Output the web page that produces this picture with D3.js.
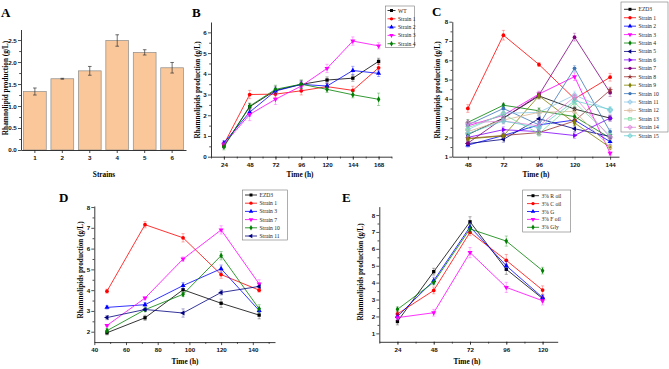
<!DOCTYPE html>
<html>
<head>
<meta charset="utf-8">
<script src="https://cdn.jsdelivr.net/npm/d3@7"></script>
<style>
  body { margin: 0; background: #fff; }
  svg { display: block; font-family: "Liberation Serif", "Times New Roman", serif; }
  .tick text { font-weight: bold; font-size: 6.2px; }
  .ttl { font-weight: bold; font-size: 7.3px; }
  .letter { font-weight: bold; font-size: 13px; }
  .leg { font-size: 5.6px; }
</style>
</head>
<body>
<svg id="fig" width="669" height="369"></svg>
<script>
// ---- panel A: bar chart
const strains = ["1", "2", "3", "4", "5", "6"];
const strainMeans = [1.33, 1.62, 1.80, 2.49, 2.22, 1.87];
const strainErrs = [0.08, 0.01, 0.10, 0.13, 0.06, 0.12];

// ---- panel B
const timeB = [24, 48, 72, 96, 120, 144, 168];
const namesB = ["WT", "Strain 1", "Strain 2", "Strain 3", "Strain 4"];
const wtB = [0.51, 2.41, 3.20, 3.49, 3.70, 3.79, 4.60];
const s1B = [0.60, 3.00, 3.02, 3.18, 3.38, 3.20, 4.29];
const s2B = [0.67, 2.15, 3.17, 3.49, 3.41, 4.16, 4.02];
const s3B = [0.60, 2.04, 2.77, 3.41, 4.26, 5.58, 5.35];
const s4B = [0.48, 2.44, 3.25, 3.50, 3.25, 2.99, 2.77];
const errB = [
  [0.10, 0.15, 0.20, 0.20, 0.15, 0.15, 0.15],
  [0.10, 0.20, 0.15, 0.20, 0.15, 0.20, 0.20],
  [0.10, 0.20, 0.15, 0.15, 0.15, 0.20, 0.15],
  [0.10, 0.30, 0.25, 0.20, 0.20, 0.20, 0.15],
  [0.15, 0.15, 0.20, 0.20, 0.15, 0.15, 0.30]
];

// ---- panel C
const timeC = [48, 72, 96, 120, 144];
const namesC = ["EZD3", "Strain 1", "Strain 2", "Strain 3", "Strain 4", "Strain 5", "Strain 6", "Strain 7",
  "Strain 8", "Strain 9", "Strain 10", "Strain 11", "Strain 12", "Strain 13", "Strain 14", "Strain 15"];
const valuesC = [
  [2.15, 3.00, 4.15, 3.47, 3.00],
  [3.50, 7.30, 5.78, 4.00, 5.12],
  [1.60, 2.10, 2.65, 2.90, 1.78],
  [2.60, 3.15, 4.25, 5.15, 1.18],
  [2.78, 3.67, 3.38, 3.08, 1.97],
  [1.68, 1.90, 2.97, 2.45, 2.05],
  [2.00, 2.40, 2.30, 2.10, 3.00],
  [1.70, 3.00, 4.20, 7.20, 4.32],
  [1.95, 2.10, 2.25, 2.85, 4.45],
  [1.92, 2.08, 4.15, 2.75, 1.48],
  [2.65, 3.50, 2.65, 5.58, 2.30],
  [2.40, 3.25, 3.30, 4.20, 3.40],
  [2.30, 2.90, 3.30, 3.35, 1.50],
  [2.50, 3.20, 2.20, 3.80, 2.10],
  [2.75, 2.85, 2.60, 4.10, 2.00],
  [2.20, 2.85, 2.50, 3.90, 3.45]
];
const errC = [
  [0.15, 0.15, 0.15, 0.15, 0.15], [0.20, 0.25, 0.10, 0.20, 0.20], [0.10, 0.10, 0.15, 0.15, 0.15],
  [0.15, 0.15, 0.15, 0.20, 0.10], [0.15, 0.10, 0.15, 0.15, 0.10], [0.10, 0.15, 0.15, 0.15, 0.10],
  [0.10, 0.15, 0.15, 0.15, 0.15], [0.10, 0.15, 0.15, 0.20, 0.20], [0.10, 0.10, 0.15, 0.15, 0.15],
  [0.10, 0.10, 0.15, 0.15, 0.10], [0.15, 0.15, 0.15, 0.15, 0.15], [0.15, 0.15, 0.15, 0.20, 0.15],
  [0.10, 0.15, 0.15, 0.15, 0.10], [0.15, 0.15, 0.15, 0.20, 0.10], [0.15, 0.15, 0.15, 0.15, 0.10],
  [0.15, 0.15, 0.15, 0.15, 0.15]
];

// ---- panel D
const timeD = [48, 72, 96, 120, 144];
const namesD = ["EZD3", "Strain 1", "Strain 3", "Strain 7", "Strain 10", "Strain 11"];
const valuesD = [
  [1.95, 2.67, 4.02, 3.37, 2.80],
  [3.95, 7.15, 6.52, 4.75, 4.00],
  [3.17, 3.30, 4.22, 5.03, 3.02],
  [2.30, 3.62, 5.50, 6.90, 4.30],
  [2.05, 3.06, 3.80, 5.66, 3.10],
  [2.68, 3.07, 2.90, 3.89, 4.18]
];
const errD = [
  [0.10, 0.12, 0.15, 0.20, 0.18], [0.10, 0.15, 0.20, 0.18, 0.10], [0.08, 0.10, 0.15, 0.18, 0.10],
  [0.05, 0.05, 0.10, 0.20, 0.20], [0.10, 0.05, 0.10, 0.20, 0.20], [0.10, 0.05, 0.20, 0.12, 0.05]
];

// ---- panel E
const timeE = [24, 48, 72, 96, 120];
const namesE = ["3% R oil", "3% C oil", "3% G", "3% F oil", "3% Gly"];
const valuesE = [
  [1.70, 4.65, 7.60, 4.79, 3.06],
  [2.15, 3.54, 6.98, 5.32, 3.56],
  [2.00, 4.12, 7.30, 5.00, 3.12],
  [1.93, 2.22, 5.78, 3.72, 2.93],
  [2.42, 4.02, 7.18, 6.46, 4.71]
];
const errE = [
  [0.20, 0.20, 0.30, 0.30, 0.20], [0.15, 0.20, 0.20, 0.35, 0.25], [0.15, 0.20, 0.25, 0.25, 0.15],
  [0.15, 0.20, 0.30, 0.30, 0.25], [0.15, 0.15, 0.25, 0.30, 0.20]
];

const svg = d3.select("#fig");

// marker shapes as Origin draws them
const sym = {
  square: { t: d3.symbolSquare, r: 0 },
  circle: { t: d3.symbolCircle, r: 0 },
  up: { t: d3.symbolTriangle, r: 0 },
  down: { t: d3.symbolTriangle, r: 180 },
  left: { t: d3.symbolTriangle, r: -90 },
  right: { t: d3.symbolTriangle, r: 90 },
  diamond: { t: d3.symbolDiamond, r: 0 },
  star: { t: d3.symbolStar, r: 0 },
  cross: { t: d3.symbolCross, r: 0 },
  x: { t: d3.symbolCross, r: 45 }
};

function axes(g, x, y, o) {
  const xa = g.append("g").attr("transform", `translate(0,${y.range()[0]})`);
  xa.call(d3.axisBottom(x).tickValues(o.xMinor).tickSize(1.8).tickSizeOuter(0).tickFormat(""));
  xa.append("g").call(d3.axisBottom(x).tickValues(o.xTicks).tickSize(3).tickSizeOuter(0).tickPadding(2.5)
    .tickFormat(o.xFmt || d3.format("d"))).select(".domain").remove();
  const ya = g.append("g").attr("transform", `translate(${x.range()[0]},0)`);
  ya.call(d3.axisLeft(y).tickValues(o.yMinor).tickSize(1.8).tickSizeOuter(0).tickFormat(""));
  ya.append("g").call(d3.axisLeft(y).tickValues(o.yTicks).tickSize(3).tickSizeOuter(0).tickPadding(1.2)
    .tickFormat(o.yFmt || d3.format("d"))).select(".domain").remove();
  g.selectAll(".domain").attr("stroke", "#222").attr("stroke-width", 0.9);
  g.selectAll(".tick line").attr("stroke", "#222").attr("stroke-width", 0.8);
  g.selectAll(".tick text").attr("fill", "#111");
}

function titles(g, o) {
  g.append("text").attr("class", "letter").attr("x", o.letter[1]).attr("y", o.letter[2]).text(o.letter[0]);
  g.append("text").attr("class", "ttl").attr("text-anchor", "middle")
    .attr("transform", `translate(${o.yTitle[1]},${o.yTitle[2]}) rotate(-90)`).text(o.yTitle[0]);
  g.append("text").attr("class", "ttl").attr("text-anchor", "middle")
    .attr("x", o.xTitle[1]).attr("y", o.xTitle[2]).text(o.xTitle[0]);
}

function marker(sel, s, color, size) {
  const open = s === "cross" || s === "x";
  sel.append("path")
    .attr("d", d3.symbol().type(sym[s].t).size(size))
    .attr("transform", (d) => `translate(${d[0]},${d[1]}) rotate(${sym[s].r})`)
    .attr("fill", open ? "none" : color)
    .attr("stroke", open ? color : "none")
    .attr("stroke-width", 0.8);
}

function linePanel(o) {
  const g = svg.append("g");
  const x = d3.scaleLinear().domain(o.xDomain).range(o.xRange);
  const y = d3.scaleLinear().domain(o.yDomain).range(o.yRange);
  axes(g, x, y, o);
  const ms = o.markerSize || 11;

  o.series.forEach((s) => {
    const pts = o.times.map((t, j) => ({ t, v: s.values[j], e: s.errs[j] }));
    const sg = g.append("g");
    // error bars
    const eb = sg.selectAll(".eb").data(pts).join("g").attr("stroke", s.color).attr("stroke-opacity", 0.45)
      .attr("stroke-width", 0.7);
    eb.append("line").attr("x1", (d) => x(d.t)).attr("x2", (d) => x(d.t))
      .attr("y1", (d) => y(d.v - d.e)).attr("y2", (d) => y(d.v + d.e));
    eb.append("line").attr("x1", (d) => x(d.t) - 1.6).attr("x2", (d) => x(d.t) + 1.6)
      .attr("y1", (d) => y(d.v + d.e)).attr("y2", (d) => y(d.v + d.e));
    eb.append("line").attr("x1", (d) => x(d.t) - 1.6).attr("x2", (d) => x(d.t) + 1.6)
      .attr("y1", (d) => y(d.v - d.e)).attr("y2", (d) => y(d.v - d.e));
    sg.append("path").datum(pts)
      .attr("fill", "none").attr("stroke", s.color).attr("stroke-width", 0.8)
      .attr("d", d3.line().x((d) => x(d.t)).y((d) => y(d.v)));
    marker(sg.selectAll(".m").data(pts.map((d) => [x(d.t), y(d.v)])).join("g"), s.sym, s.color, ms);
  });

  // legend
  const L = o.legend;
  g.append("rect").attr("x", L.x).attr("y", L.y).attr("width", L.w).attr("height", L.h)
    .attr("fill", "#fff").attr("stroke", "#777").attr("stroke-width", 0.6);
  o.series.forEach((s, i) => {
    const yy = L.y0 + i * L.dy;
    const lg = g.append("g");
    lg.append("line").attr("x1", L.lx).attr("x2", L.lx + L.lw).attr("y1", yy).attr("y2", yy)
      .attr("stroke", s.color).attr("stroke-width", 0.8);
    marker(lg.selectAll(".m").data([[L.lx + L.lw / 2, yy]]).join("g"), s.sym, s.color, ms * 0.8);
    lg.append("text").attr("class", "leg").attr("x", L.lx + L.lw + 2.5).attr("y", yy + 2)
      .attr("fill", "#222").text(s.name);
  });
  titles(g, o);
}

// ---------- A
(function () {
  const g = svg.append("g");
  const x = d3.scaleBand().domain(strains).range([21, 186]).paddingInner(0.17).paddingOuter(0.09);
  const y = d3.scaleLinear().domain([0, 2.74]).range([150, 29.5]);
  axes(g, x, y, {
    xTicks: strains, xMinor: [], xFmt: (d) => d,
    yTicks: [0, 0.5, 1, 1.5, 2, 2.5], yMinor: d3.range(0.25, 2.74, 0.5), yFmt: d3.format(".1f")
  });
  g.insert("g", ":first-child").selectAll("rect").data(strains).join("rect")
    .attr("x", (d) => x(d)).attr("width", x.bandwidth())
    .attr("y", (d, i) => y(strainMeans[i])).attr("height", (d, i) => y(0) - y(strainMeans[i]))
    .attr("fill", "#f9c799").attr("stroke", "#8d8d8d").attr("stroke-width", 0.7);
  const eb = g.append("g").attr("stroke", "#333").attr("stroke-width", 0.7);
  strains.forEach((d, i) => {
    const cx = x(d) + x.bandwidth() / 2;
    const hi = y(strainMeans[i] + strainErrs[i]);
    const lo = y(strainMeans[i] - strainErrs[i]);
    eb.append("line").attr("x1", cx).attr("x2", cx).attr("y1", hi).attr("y2", lo);
    eb.append("line").attr("x1", cx - 1.8).attr("x2", cx + 1.8).attr("y1", hi).attr("y2", hi);
    eb.append("line").attr("x1", cx - 1.8).attr("x2", cx + 1.8).attr("y1", lo).attr("y2", lo);
  });
  titles(g, {
    letter: ["A", 1, 17], yTitle: ["Rhamnolipid production (g/L)", 7.5, 88], xTitle: ["Strains", 104, 177]
  });
})();

// ---------- B
const colB = ["#000000", "#ff0000", "#0000ff", "#ff00ff", "#008000"];
const symB = ["square", "circle", "up", "down", "diamond"];
linePanel({
  times: timeB,
  series: [wtB, s1B, s2B, s3B, s4B].map((v, i) => ({ name: namesB[i], values: v, errs: errB[i], color: colB[i], sym: symB[i] })),
  xDomain: [12, 180], xRange: [211, 391.5], yDomain: [0, 6.5], yRange: [156.7, 22],
  xTicks: timeB, xMinor: d3.range(12, 181, 12), yTicks: d3.range(0, 7), yMinor: d3.range(0.5, 6.5, 1),
  legend: { x: 385.5, y: 6, w: 29, h: 41.5, y0: 10.5, dy: 8.3, lx: 387.5, lw: 8 },
  letter: ["B", 192, 17], yTitle: ["Rhamnolipids production (g/L)", 200, 90], xTitle: ["Time (h)", 300, 177]
});

// ---------- C
const colC = ["#000000", "#ff0000", "#0000ff", "#ff00ff", "#008000", "#000080", "#8000ff", "#800080",
  "#993333", "#808000", "#3c76b8", "#8fc8e8", "#d8b896", "#78dca0", "#e088dc", "#6cd0d0"];
const symC = ["square", "circle", "up", "down", "diamond", "left", "right", "circle",
  "star", "diamond", "circle", "cross", "x", "x", "cross", "cross"];
linePanel({
  times: timeC,
  series: valuesC.map((v, i) => ({ name: namesC[i], values: v, errs: errC[i], color: colC[i], sym: symC[i] })),
  xDomain: [37.5, 150], xRange: [452.3, 619], yDomain: [1, 8], yRange: [156.7, 21.7],
  xTicks: timeC, xMinor: d3.range(60, 150, 24), yTicks: d3.range(1, 9), yMinor: d3.range(1.5, 8, 1),
  legend: { x: 621, y: 2, w: 47, h: 130, y0: 9.3, dy: 8.43, lx: 624, lw: 12 },
  letter: ["C", 432, 16], yTitle: ["Rhamnolipids production (g/L)", 440, 90], xTitle: ["Time (h)", 536, 177]
});

// ---------- D
const colD = ["#000000", "#ff0000", "#0000ff", "#ff00ff", "#008000", "#000080"];
const symD = ["square", "circle", "up", "down", "diamond", "left"];
linePanel({
  times: timeD,
  series: valuesD.map((v, i) => ({ name: namesD[i], values: v, errs: errD[i], color: colD[i], sym: symD[i] })),
  xDomain: [40, 154], xRange: [94.3, 275], yDomain: [1.5, 8.05], yRange: [342.1, 206],
  xTicks: d3.range(40, 141, 20), xMinor: d3.range(50, 154, 20), yTicks: d3.range(2, 9), yMinor: d3.range(2.5, 8, 1),
  legend: { x: 242.3, y: 190, w: 45, h: 50, y0: 195, dy: 8.2, lx: 245, lw: 12 },
  letter: ["D", 59, 202], yTitle: ["Rhamnolipids production (g/L)", 83, 270], xTitle: ["Time (h)", 185, 364]
});

// ---------- E
const colE = ["#000000", "#ff0000", "#0000ff", "#ff00ff", "#008000"];
const symE = ["square", "circle", "up", "down", "diamond"];
linePanel({
  times: timeE,
  series: valuesE.map((v, i) => ({ name: namesE[i], values: v, errs: errE[i], color: colE[i], sym: symE[i] })),
  xDomain: [12, 130], xRange: [379.3, 557.7], yDomain: [0.5, 8.5], yRange: [341.8, 206.6],
  xTicks: timeE, xMinor: d3.range(12, 131, 12), yTicks: d3.range(1, 9), yMinor: d3.range(1.5, 8.5, 1),
  legend: { x: 522.7, y: 190, w: 48, h: 42, y0: 195.7, dy: 7.9, lx: 527, lw: 12 },
  letter: ["E", 342, 202], yTitle: ["Rhamnolipids production (g/L)", 363, 272], xTitle: ["Time (h)", 467, 364]
});
</script>
</body>
</html>
